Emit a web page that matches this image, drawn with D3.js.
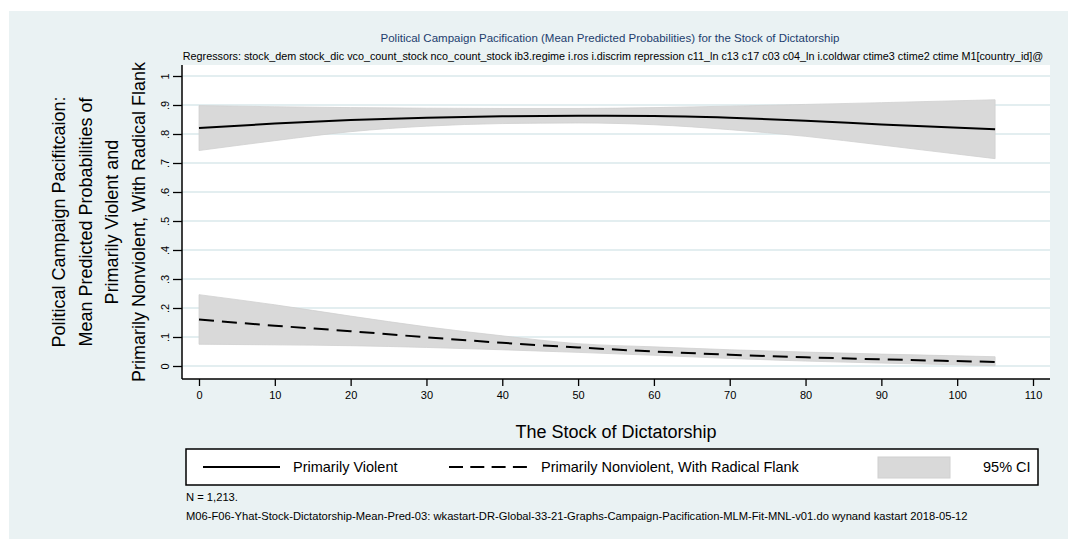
<!DOCTYPE html>
<html><head><meta charset="utf-8">
<script src="https://cdn.jsdelivr.net/npm/d3@7"></script>
<style>body{margin:0;background:#fff;}svg{display:block;font-family:"Liberation Sans",Arial,sans-serif;}</style>
</head><body>
<svg id="c" width="1068" height="539"></svg>
<script>
// ---- data ----
const stock = [0, 10, 20, 30, 40, 50, 60, 70, 80, 90, 105];
const violentMean = [0.821, 0.836, 0.848, 0.856, 0.861, 0.863, 0.862, 0.856, 0.846, 0.833, 0.816];
const violentUpper = [0.898, 0.894, 0.891, 0.889, 0.888, 0.888, 0.891, 0.896, 0.902, 0.908, 0.918];
const violentLower = [0.743, 0.777, 0.808, 0.827, 0.836, 0.838, 0.832, 0.815, 0.792, 0.762, 0.715];
const nonviolentMean = [0.160, 0.139, 0.120, 0.099, 0.080, 0.064, 0.050, 0.039, 0.030, 0.023, 0.014];
const nonviolentUpper = [0.246, 0.211, 0.172, 0.135, 0.104, 0.077, 0.066, 0.056, 0.048, 0.041, 0.032];
const nonviolentLower = [0.075, 0.073, 0.070, 0.064, 0.056, 0.047, 0.037, 0.026, 0.017, 0.010, 0.001];
const xTicks = [0, 10, 20, 30, 40, 50, 60, 70, 80, 90, 100, 110];
const yTicks = [0, 0.1, 0.2, 0.3, 0.4, 0.5, 0.6, 0.7, 0.8, 0.9, 1];
const yTickLabels = ["0", ".1", ".2", ".3", ".4", ".5", ".6", ".7", ".8", ".9", "1"];
const titleText = "Political Campaign Pacification (Mean Predicted Probabilities) for the Stock of Dictatorship";
const subtitleText = "Regressors: stock_dem stock_dic vco_count_stock nco_count_stock ib3.regime i.ros i.discrim repression c11_ln c13 c17 c03 c04_ln i.coldwar ctime3 ctime2 ctime M1[country_id]@";
const yTitleLines = ["Political Campaign Pacifitcaion:", "Mean Predicted Probabilities of", "Primarily Violent and", "Primarily Nonviolent, With Radical Flank"];
const xTitle = "The Stock of Dictatorship";
const legendLabels = ["Primarily Violent", "Primarily Nonviolent, With Radical Flank", "95% CI"];
const notes = ["N = 1,213.", "M06-F06-Yhat-Stock-Dictatorship-Mean-Pred-03: wkastart-DR-Global-33-21-Graphs-Campaign-Pacification-MLM-Fit-MNL-v01.do wynand kastart 2018-05-12"];

// ---- layout ----
const svg = d3.select("#c");
const bg = "#eaf2f3";
const plot = {l: 182, r: 1050, t: 65, b: 379};
const x = d3.scaleLinear().domain([0, 110]).range([199, 1033]);
const y = d3.scaleLinear().domain([0, 1]).range([366, 76]);

svg.append("rect").attr("x", 9).attr("y", 11).attr("width", 1059).attr("height", 528).attr("fill", bg);
svg.append("rect").attr("x", plot.l).attr("y", plot.t).attr("width", plot.r - plot.l).attr("height", plot.b - plot.t).attr("fill", "#fff");

// gridlines
svg.append("g").selectAll("line").data(yTicks).join("line")
  .attr("x1", plot.l).attr("x2", plot.r).attr("y1", d => y(d)).attr("y2", d => y(d))
  .attr("stroke", "#e3eef0").attr("stroke-width", 1.8);

// CI bands
const area = (lo, hi) => d3.area().x((d, i) => x(stock[i])).y0((d, i) => y(lo[i])).y1((d, i) => y(hi[i])).curve(d3.curveMonotoneX)(stock);
[[violentLower, violentUpper], [nonviolentLower, nonviolentUpper]].forEach(([lo, hi]) => {
  svg.append("path").attr("d", area(lo, hi)).attr("fill", "#d9d9d9").attr("stroke", "#d0d0d0").attr("stroke-width", 0.8);
});

// lines
const line = vals => d3.line().x((d, i) => x(stock[i])).y((d, i) => y(vals[i])).curve(d3.curveMonotoneX)(stock);
svg.append("path").attr("d", line(violentMean)).attr("fill", "none").attr("stroke", "#000").attr("stroke-width", 2);
svg.append("path").attr("d", line(nonviolentMean)).attr("fill", "none").attr("stroke", "#000").attr("stroke-width", 2).attr("stroke-dasharray", "15,8");

// axes
const xAxis = svg.append("g").attr("transform", `translate(0,${plot.b})`)
  .call(d3.axisBottom(x).tickValues(xTicks).tickSize(7).tickPadding(5).tickFormat(d3.format("d")));
xAxis.select(".domain").remove();
xAxis.selectAll("line").attr("stroke", "#000").attr("stroke-width", 1.3);
xAxis.selectAll("text").attr("font-size", 11).attr("fill", "#000").attr("font-family", "Liberation Sans, Arial, sans-serif");

const yAxis = svg.append("g").attr("transform", `translate(${plot.l},0)`)
  .call(d3.axisLeft(y).tickValues(yTicks).tickSize(9).tickFormat((d, i) => yTickLabels[i]));
yAxis.select(".domain").remove();
yAxis.selectAll("line").attr("stroke", "#000").attr("stroke-width", 1.3);
yAxis.selectAll("text").attr("font-size", 11).attr("fill", "#000").attr("font-family", "Liberation Sans, Arial, sans-serif")
  .attr("x", null).attr("dy", null).attr("text-anchor", "middle")
  .attr("transform", "translate(-13,0) rotate(-90)");

svg.append("line").attr("x1", plot.l).attr("x2", plot.l).attr("y1", plot.t).attr("y2", plot.b).attr("stroke", "#000").attr("stroke-width", 1.5);
svg.append("line").attr("x1", plot.l).attr("x2", plot.r).attr("y1", plot.b).attr("y2", plot.b).attr("stroke", "#000").attr("stroke-width", 1.5);

// titles
svg.append("text").attr("x", 610).attr("y", 42).attr("text-anchor", "middle").attr("font-size", 11.5).attr("fill", "#1c3d6e").text(titleText);
svg.append("text").attr("x", 613).attr("y", 60).attr("text-anchor", "middle").attr("font-size", 10.8).attr("fill", "#000").text(subtitleText);

const cy = (plot.t + plot.b) / 2;
yTitleLines.forEach((t, i) => {
  svg.append("text").attr("transform", `translate(${65 + i * 26.7},${cy}) rotate(-90)`)
    .attr("text-anchor", "middle").attr("font-size", 18).attr("fill", "#000").text(t);
});
svg.append("text").attr("x", 616).attr("y", 438).attr("text-anchor", "middle").attr("font-size", 18).attr("fill", "#000").text(xTitle);

// legend
const lg = svg.append("g");
lg.append("rect").attr("x", 186).attr("y", 449).attr("width", 852).attr("height", 36).attr("fill", "#fff").attr("stroke", "#000").attr("stroke-width", 1.5);
const ly = 467;
lg.append("line").attr("x1", 203).attr("x2", 280).attr("y1", ly).attr("y2", ly).attr("stroke", "#000").attr("stroke-width", 2);
lg.append("text").attr("x", 293).attr("y", ly + 5).attr("font-size", 14.5).text(legendLabels[0]);
lg.append("line").attr("x1", 449).attr("x2", 527).attr("y1", ly).attr("y2", ly).attr("stroke", "#000").attr("stroke-width", 2).attr("stroke-dasharray", "14,7.3");
lg.append("text").attr("x", 541).attr("y", ly + 5).attr("font-size", 14.5).text(legendLabels[1]);
lg.append("rect").attr("x", 878).attr("y", 457).attr("width", 72).attr("height", 21).attr("fill", "#d9d9d9").attr("stroke", "#d0d0d0");
lg.append("text").attr("x", 983).attr("y", ly + 5).attr("font-size", 14.5).text(legendLabels[2]);

// notes
svg.append("text").attr("x", 186).attr("y", 501).attr("font-size", 11.2).text(notes[0]);
svg.append("text").attr("x", 186).attr("y", 520).attr("font-size", 11.2).text(notes[1]);
</script>
</body></html>
